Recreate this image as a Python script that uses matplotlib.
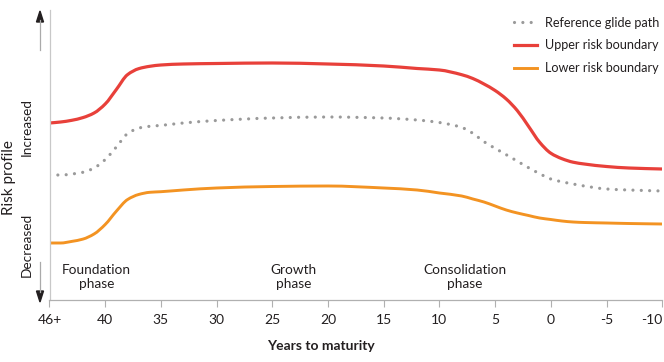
import matplotlib
matplotlib.use("Agg")
import matplotlib.pyplot as plt
from matplotlib.lines import Line2D
from matplotlib.patches import Polygon, PathPatch
from matplotlib.path import Path

plt.rcParams['font.family'] = ['Lato', 'DejaVu Sans']

# Years to maturity (46+ plotted at position 45)
years = [45, 44, 43, 42, 41, 40, 39, 38, 37, 36, 35, 33, 30, 25, 20, 15, 12, 10,
         8, 7, 6, 5, 4, 3, 2, 1, 0, -1, -2, -3, -5, -7, -10]
upper = [177, 178, 179.7, 182.4, 187, 196, 210.5, 225.3, 231.3, 233.7, 235, 236,
         236.5, 237, 236, 234, 231.5, 230, 225.3, 221.5, 216, 209.5, 201, 189.3,
         173.7, 157.7, 146.8, 141.3, 137.8, 136, 133.5, 132, 131]
reference = [125, 125, 126, 127.7, 132, 140.4, 153, 166.3, 171.9, 173.7, 174.6, 177,
             179.5, 182, 183, 182, 180, 177.5, 172.5, 166.7, 158.3, 151.7, 145.3,
             138.8, 132.3, 126.3, 121, 118.2, 116, 114, 111, 110, 109]
lower = [57, 57, 58.6, 60.9, 66, 75.5, 88.8, 100.4, 105.5, 107.7, 108.3, 110, 112,
         113.5, 114, 112, 110, 107, 104, 101, 98, 94, 90, 87, 84.5, 82, 80.5, 79, 78,
         77.5, 77, 76.5, 76]

tick_pos = [45, 40, 35, 30, 25, 20, 15, 10, 5, 0, -5, -10]
tick_labels = ["46+", "40", "35", "30", "25", "20", "15", "10", "5", "0", "-5", "-10"]
phases = ["Foundation\nphase", "Growth\nphase", "Consolidation\nphase"]
phase_x = [40.8, 23.1, 7.7]
series_names = ["Reference glide path", "Upper risk boundary", "Lower risk boundary"]

RED = "#e8403a"
ORANGE = "#f39322"
GREY = "#9a9a9a"
TXT = "#231f20"
DOT = (0, (0.01, 2.6))


def smooth_path(xs, ys):
    """Monotone cubic (Fritsch-Carlson) through the given points, as Bezier path."""
    n = len(xs)
    h = [xs[i + 1] - xs[i] for i in range(n - 1)]
    d = [(ys[i + 1] - ys[i]) / h[i] for i in range(n - 1)]
    m = [0.0] * n
    m[0], m[-1] = d[0], d[-1]
    for i in range(1, n - 1):
        if d[i - 1] * d[i] <= 0:
            m[i] = 0.0
        else:
            w1 = 2 * h[i] + h[i - 1]
            w2 = h[i] + 2 * h[i - 1]
            m[i] = (w1 + w2) / (w1 / d[i - 1] + w2 / d[i])
    verts = [(xs[0], ys[0])]
    codes = [Path.MOVETO]
    for i in range(n - 1):
        verts += [(xs[i] + h[i] / 3, ys[i] + m[i] * h[i] / 3),
                  (xs[i + 1] - h[i] / 3, ys[i + 1] - m[i + 1] * h[i] / 3),
                  (xs[i + 1], ys[i + 1])]
        codes += [Path.CURVE4] * 3
    return Path(verts, codes)


W, H = 664, 362
fig = plt.figure(figsize=(W / 100, H / 100), dpi=100)
ax = fig.add_axes([49.5 / W, (H - 300) / H, (662.2 - 49.5) / W, 290 / H])

styles = [
    (reference, dict(edgecolor=GREY, lw=2.3, linestyle=DOT, capstyle='round')),
    (upper, dict(edgecolor=RED, lw=2.3, capstyle='round')),
    (lower, dict(edgecolor=ORANGE, lw=2.1, capstyle='round')),
]
for vals, st in styles:
    ax.add_patch(PathPatch(smooth_path(years, vals), fill=False, **st))

ax.set_xlim(45, -10)
ax.set_ylim(0, 290)
ax.set_xticks(tick_pos)
ax.set_xticklabels(tick_labels)
ax.set_yticks([])
for s in ["top", "right"]:
    ax.spines[s].set_visible(False)
ax.spines["left"].set_color("#c8c8c8")
ax.spines["bottom"].set_color("#b0b0b0")
ax.spines["left"].set_linewidth(0.9)
ax.spines["bottom"].set_linewidth(0.9)
ax.tick_params(axis='x', direction='out', length=5, width=0.8, color="#b0b0b0",
               labelsize=10, labelcolor=TXT, pad=5)
ax.get_xticklabels()[-1].set_horizontalalignment('right')

for label, px in zip(phases, phase_x):
    ax.text(px, 23, label, ha='center', va='center', fontsize=9.8, color=TXT,
            linespacing=1.15)

handles = [
    Line2D([], [], color=GREY, lw=2.3, linestyle=DOT, dash_capstyle='round'),
    Line2D([], [], color=RED, lw=2.3),
    Line2D([], [], color=ORANGE, lw=2.1),
]
leg = ax.legend(handles, series_names, loc='upper right',
                bbox_to_anchor=(662 / W, (H - 14) / H),
                bbox_transform=fig.transFigure, frameon=False, fontsize=9.1,
                handlelength=1.85, handletextpad=0.65, labelspacing=0.85,
                borderaxespad=0, borderpad=0.2)
for t in leg.get_texts():
    t.set_color(TXT)


def fy(y):
    return (H - y) / H


ax_x = 40 / W
fig.add_artist(Line2D([ax_x, ax_x], [fy(50), fy(20)], color="#aaaaaa", lw=0.9,
                      transform=fig.transFigure))
fig.add_artist(Line2D([ax_x, ax_x], [fy(262), fy(292)], color="#aaaaaa", lw=0.9,
                      transform=fig.transFigure))
fig.add_artist(Polygon([[(40 - 3.5) / W, fy(22)], [(40 + 3.5) / W, fy(22)], [ax_x, fy(11)]],
                       closed=True, color="#231f20", transform=fig.transFigure))
fig.add_artist(Polygon([[(40 - 3.5) / W, fy(291)], [(40 + 3.5) / W, fy(291)], [ax_x, fy(302)]],
                       closed=True, color="#231f20", transform=fig.transFigure))

fig.text(27 / W, fy(127), "Increased", rotation=90, ha='center', va='center',
         fontsize=9.8, color=TXT)
fig.text(27 / W, fy(245), "Decreased", rotation=90, ha='center', va='center',
         fontsize=9.8, color=TXT)
fig.text(9 / W, fy(178), "Risk profile", rotation=90, ha='center', va='center',
         fontsize=11, color=TXT)
fig.text(321 / W, fy(346), "Years to maturity", ha='center', va='center',
         fontsize=10, color=TXT, fontweight='bold')

fig.savefig("out.png", dpi=100)
